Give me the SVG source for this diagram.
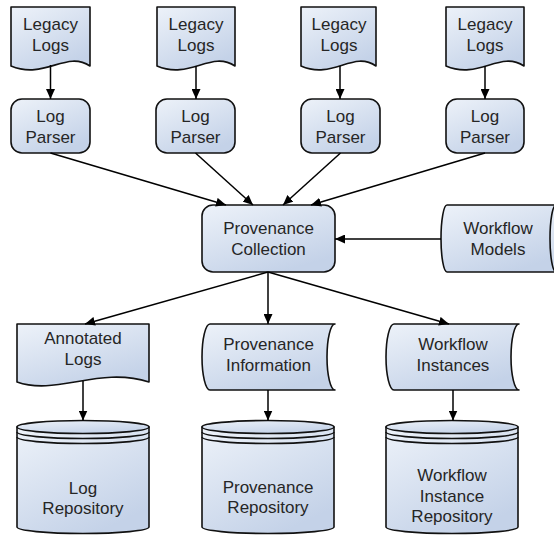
<svg xmlns="http://www.w3.org/2000/svg" width="554" height="536" viewBox="0 0 554 536">
<defs>
<linearGradient id="g" x1="0" y1="0" x2="0.6" y2="1">
<stop offset="0" stop-color="#edf2f9"/>
<stop offset="1" stop-color="#c4d2e8"/>
</linearGradient>
<marker id="ah" markerUnits="userSpaceOnUse" markerWidth="10" markerHeight="9" refX="10" refY="4.5" orient="auto">
<path d="M0,0 L10,4.5 L0,9 Z" fill="#000"/>
</marker>
</defs>
<style>
.s{fill:url(#g);stroke:#111;stroke-width:1.6;stroke-linejoin:round}
.b{fill:none;stroke:#111;stroke-width:1.6}
.t{font-family:"Liberation Sans",Arial,sans-serif;font-size:17px;fill:#262626;text-anchor:middle}
.c{fill:none;stroke:#000;stroke-width:1.5;marker-end:url(#ah)}
</style>
<rect width="554" height="536" fill="#fff"/>

<g id="legacy1">
<path class="s" d="M11,7 H90 V66 C66,50 45,80 11,66 Z"/>
<text class="t" x="50.5" y="30">Legacy</text><text class="t" x="50.5" y="50.5">Logs</text>
</g>
<g id="legacy2">
<path class="s" d="M157,7 H235 V66 C211,50 190,80 157,66 Z"/>
<text class="t" x="196" y="30">Legacy</text><text class="t" x="196" y="50.5">Logs</text>
</g>
<g id="legacy3">
<path class="s" d="M301,7 H376 V66 C353,50 333,80 301,66 Z"/>
<text class="t" x="339" y="30">Legacy</text><text class="t" x="339" y="50.5">Logs</text>
</g>
<g id="legacy4">
<path class="s" d="M446,7 H524 V66 C500,50 479,80 446,66 Z"/>
<text class="t" x="485" y="30">Legacy</text><text class="t" x="485" y="50.5">Logs</text>
</g>

<g id="parser1">
<rect class="s" x="11" y="99" width="79" height="54" rx="11"/>
<text class="t" x="50.5" y="122">Log</text><text class="t" x="50.5" y="142.5">Parser</text>
</g>
<g id="parser2">
<rect class="s" x="156" y="99" width="79" height="54" rx="11"/>
<text class="t" x="195.5" y="122">Log</text><text class="t" x="195.5" y="142.5">Parser</text>
</g>
<g id="parser3">
<rect class="s" x="301" y="99" width="79" height="54" rx="11"/>
<text class="t" x="340.5" y="122">Log</text><text class="t" x="340.5" y="142.5">Parser</text>
</g>
<g id="parser4">
<rect class="s" x="446" y="99" width="78" height="54" rx="11"/>
<text class="t" x="485" y="122">Log</text><text class="t" x="485" y="142.5">Parser</text>
</g>

<g id="provenance-collection">
<rect class="s" x="202" y="205" width="133" height="67" rx="11"/>
<text class="t" x="268.5" y="234">Provenance</text><text class="t" x="268.5" y="254.5">Collection</text>
</g>

<g id="workflow-models">
<path class="s" d="M447,205 H560 V272 H447 A6,33.5 0 0 1 447,205 Z"/>
<path class="s" d="M556,205 A6,33.5 0 0 0 556,272 A6,33.5 0 0 0 556,205 Z"/>
<text class="t" x="498" y="234">Workflow</text><text class="t" x="498" y="254.5">Models</text>
</g>

<g id="annotated-logs">
<path class="s" d="M17,324 H149 V382 C99,366 56.6,396 17,382 Z"/>
<text class="t" x="83" y="344">Annotated</text><text class="t" x="83" y="364.5">Logs</text>
</g>

<g id="provenance-information">
<path class="s" d="M210,324 H335 A8,33 0 0 0 335,390 H210 A8,33 0 0 1 210,324 Z"/>
<text class="t" x="268.5" y="350">Provenance</text><text class="t" x="268.5" y="370.5">Information</text>
</g>

<g id="workflow-instances">
<path class="s" d="M394,324 H519 A8,33 0 0 0 519,390 H394 A8,33 0 0 1 394,324 Z"/>
<text class="t" x="453" y="350">Workflow</text><text class="t" x="453" y="370.5">Instances</text>
</g>

<g id="log-repository">
<path class="s" d="M17,427 V527 A66,6.5 0 0 0 149,527 V427 Z"/>
<ellipse class="s" cx="83" cy="427" rx="66" ry="6.5"/>
<path class="b" d="M17,432 A66,6.5 0 0 0 149,432 M17,437 A66,6.5 0 0 0 149,437"/>
<text class="t" x="83" y="493.5">Log</text><text class="t" x="83" y="514">Repository</text>
</g>

<g id="provenance-repository">
<path class="s" d="M202,427 V527 A66,6.5 0 0 0 334,527 V427 Z"/>
<ellipse class="s" cx="268" cy="427" rx="66" ry="6.5"/>
<path class="b" d="M202,432 A66,6.5 0 0 0 334,432 M202,437 A66,6.5 0 0 0 334,437"/>
<text class="t" x="268" y="492.5">Provenance</text><text class="t" x="268" y="513">Repository</text>
</g>

<g id="workflow-instance-repository">
<path class="s" d="M386,427 V527 A66,6.5 0 0 0 518,527 V427 Z"/>
<ellipse class="s" cx="452" cy="427" rx="66" ry="6.5"/>
<path class="b" d="M386,432 A66,6.5 0 0 0 518,432 M386,437 A66,6.5 0 0 0 518,437"/>
<text class="t" x="452" y="481">Workflow</text><text class="t" x="452" y="501.5">Instance</text><text class="t" x="452" y="522">Repository</text>
</g>

<g id="connectors">
<path class="c" d="M50.5,65 V99"/>
<path class="c" d="M196,66 V99"/>
<path class="c" d="M340,66 V99"/>
<path class="c" d="M485,66 V99"/>
<path class="c" d="M50.5,153 L226,205"/>
<path class="c" d="M195.5,153 L253,205"/>
<path class="c" d="M340.5,153 L283,205"/>
<path class="c" d="M485,153 L311,205"/>
<path class="c" d="M441,239 H335"/>
<path class="c" d="M268,272 L85,324"/>
<path class="c" d="M268,272 V324"/>
<path class="c" d="M268,272 L449,324"/>
<path class="c" d="M83,381 V420.5"/>
<path class="c" d="M268,390 V420.5"/>
<path class="c" d="M453,390 V420.5"/>
</g>
</svg>
